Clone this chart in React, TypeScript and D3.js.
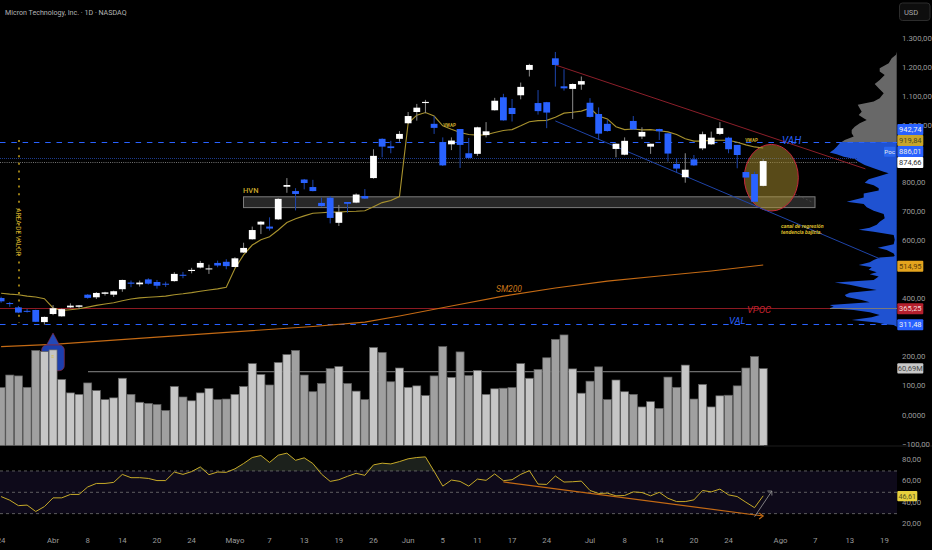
import React from "react";
import * as d3 from "d3";

const opens = [400.5,383,368,356,359,317,345,337,368,370,412,403,415,412,431,454,448,465,456,450,459,481,494,506,500,522,526,508,558,604,655,648,673,786,771,811,785,730,748,661,733,731,754,816,952,926,952,1006,1045,1076,1004,941,933,986,902,900,965,1051,1096,1059,1103,1191,1076,1079,1231,1134,1125,1140,1077,1038,1004,917,897,1014,960,925,986,971,865,819,881,919,933,969,956,931,837,830,789];
const highs = [405,387,373,363,360,336,376,364,382,376,414,421,422,426,464,461,461,469,463,457,490,491,505,529,516,530,535,542,592,648,667,680,746,816,781,813,810,748,754,723,733,763,778,916,954,945,979,1045,1073,1087,1031,957,957,986,955,994,1010,1094,1108,1090,1147,1212,1121,1080,1253,1193,1144,1168,1093,1061,1018,936,957,1031,992,935,987,972,885,902,896,977,977,1010,959,931,838,838,882];
const lows = [384,370,348,350,317,308,341,336,366,363,398,397,409,404,422,438,440,447,433,439,457,469,486,503,484,507,500,507,557,603,622,634,671,765,704,777,770,717,659,650,696,729,744,814,888,902,942,1004,1015,1041,969,858,913,851,881,893,957,1050,1015,1012,1089,1168,1036,989,1133,1119,1021,1122,1026,949,977,888,895,983,951,900,948,873,835,800,858,913,931,965,902,850,816,733,787];
const closes = [389,380,350,353,318,335,365,362,374,375,401,418,420,424,463,450,454,450,443,447,484,478,498,522,503,513,511,538,574,636,665,641,744,792,761,799,771,719,678,698,727,759,745,893,925,920,969,1031,1060,1080,990,860,946,931,886,992,978,1084,1016,1038,1132,1208,1048,1043,1208,1127,1142,1152,1028,970,979,935,945,985,976,935,978,901,849,845,860,968,956,989,916,896,818,734,875];
const volumes = [94,137,134,95,221,217,223,122,76,71,110,84,53,59,126,71,44,40,36,16,98,62,49,76,91,53,55,71,98,176,139,103,180,207,221,137,80,108,159,166,108,82,53,231,214,114,161,95,100,67,134,234,129,216,135,153,71,90,92,94,176,126,156,196,259,274,158,75,116,165,53,120,80,71,28,46,23,130,95,171,55,105,28,66,68,100,161,200,159];
const rsiValues = [46,42.6,37.5,38,32,36.6,44.8,44.8,48,48,55,58.3,58.3,59.3,66.8,63.7,63.7,63,61,61,69,66.8,69.4,73.8,66.5,69,68.7,72,77,82.6,84.5,78,84.8,86.7,80,82.3,77,67,60.2,61.8,65,67.8,65.9,75.7,77.3,76.6,78.8,81.4,82.6,83.2,69.7,55.8,61.5,60.2,55.8,62.4,61.2,67.2,60.9,61.8,66.8,70.3,57.7,57.4,65.3,59.6,59.9,60.5,51.7,48.9,49.2,46.7,47,50.4,49.8,46.7,50,44.4,41.3,41.3,42.9,51.7,50.4,53,47.6,46,40.7,35.6,46.7];
const vwapValues = [417,414,412,407,404,398,366,357,360,363,369,375,380,384,391,397,401,403,405,407,412,415,419,424,428,432,438,503,550,584,602,613,636,662,675,685,694,696,698,698,700,701,703,717,731,738,752,1006,1034,1043,1031,997,985,974,967,965,966,974,981,984,997,1011,1015,1016,1027,1041,1044,1048,1058,1031,1021,994,984,986,983,984,980,976,967,952,944,944,947,947,947,940,931,924,920];
const smaBars = [0,6,18,36,42,46,52,58,64,70,76,82,88];
const smaValues = [232,240,265,302,317,338,373,407,435,459,477,494,515];
const profilePrices = [1254,1243,1231,1214,1197,1185,1173,1156,1142,1127,1110,1093,1081,1070,1058,1046,1035,1023,1017,1006,994,983,971,960,948,941,937,925,914,905,899,890,882,873,861,850,838,833,823,812,800,791,781,773,763,749,734,726,715,703,692,677,665,654,644,637,630,619,602,587,575,567,555,547,544,541,532,524,515,507,498,490,483,475,463,454,446,436,428,419,411,404,394,386,376,370,365,359,351,342,334,324,316,309,307,301];
const profileVols = [0,0.7,5,8,17,17,12,17,22,18,13,17,23,39,37,35,38,33,30,37,42,45,45,43,52,55,57,60,63,67,60,53,42,38,32,23,13,8,17,28,32,23,18,18,33,33,50,33,30,23,13,12,17,20,27,38,23,3,2,3,19,10,3,2,3,17,23,27,38,25,28,20,27,18,23,62,47,33,20,47,52,50,35,27,67,63,67,43,27,17,25,45,20,10,3,0];
const priceTicks = [1300,1200,1100,1000,800,700,600,400];
const volumeTicks = [200,100,0,-100];
const rsiTicks = [80,60,40,20];
const timeTicks: [number,string][] = [[0,"24"],[6,"Abr"],[10,"8"],[14,"14"],[18,"20"],[22,"24"],[27,"Mayo"],[31,"7"],[35,"13"],[39,"19"],[43,"26"],[47,"Jun"],[51,"5"],[55,"11"],[59,"17"],[63,"24"],[68,"Jul"],[72,"8"],[76,"14"],[80,"20"],[84,"24"],[90,"Ago"],[94,"7"],[98,"13"],[102,"19"]];
const redChannel: [number,number][] = [[64,1208],[99.8,848]];
const blueChannel: [number,number][] = [[64,1014],[101.5,536]];
const rsiTrend: [number,number][] = [[58,59.7],[88,27.8]];
const rsiArrow: [number,number][] = [[87,27.1],[89,51.2]];
const VAH = 942.74, VAL = 311.48, POC = 886.01, LAST = 874.66, VPOC = 365.25, VOL_LEVEL = 150;

const BLUE = "#2962ff", YEL = "#c8a62a", FONT = "Roboto, 'Liberation Sans', sans-serif";
const W = 932, H = 550;

const x = d3.scaleLinear().domain([0, 88]).range([1.1, 763.2]);
const y = d3.scaleLinear().domain([1300, 400]).range([38.4, 298.15]);
const yv = d3.scaleLinear().domain([200, -100]).range([356.6, 444.4]);
const yr = d3.scaleLinear().domain([80, 20]).range([460.3, 524.3]);
const yrLabel = d3.scaleLinear().domain([80, 20]).range([459.3, 523.3]);
const wProfile = d3.scaleLinear().domain([0, 67]).range([896.7, 829.7]);
const fmt = (v: number) => d3.format(",.2f")(v).replace(/,/g, "#").replace(".", ",").replace(/#/g, ".");

const indices = d3.range(opens.length);
const lineOf = (vals: number[], sc: (v: number) => number) =>
  d3.line<number>().x((_, i) => x(i)).y(d => sc(d))(vals) ?? "";
const seg = (pts: [number, number][], sc: (v: number) => number) =>
  d3.line<[number, number]>().x(d => x(d[0])).y(d => sc(d[1]))(pts) ?? "";
const smaPath = d3.line<number>().x((_, i) => x(smaBars[i])).y(d => y(d))(smaValues) ?? "";
const profileRows = profilePrices.map((p, i) => ({ p, v: profileVols[i] }));
const profArea = d3.area<{ p: number; v: number }>().y(d => y(d.p)).x0(896.7).x1(d => wProfile(d.v));
const rsiAbove = d3.area<number>().x((_, i) => x(i)).y0(yr(70)).y1(d => yr(Math.max(70, d)));

function PriceLabel({ top, h = 11, fill, text, color }: { top: number; h?: number; fill: string; text: string; color: string }) {
  return (
    <g>
      <rect x={897.3} y={top} width={26} height={h} fill={fill} rx={1} />
      <text x={910.3} y={top + h / 2 + 2.6} fontSize={7.5} textAnchor="middle" fill={color} fontFamily={FONT}>{text}</text>
    </g>
  );
}

export default function App() {
  return (
    <svg width={W} height={H} viewBox={`0 0 ${W} ${H}`} style={{ position: "fixed", left: 0, top: 0, display: "block", background: "#000" }}>
      <rect width={W} height={H} fill="#000" />
      <text x={5} y={14.5} fontSize={7.1} fill="#b4b4b4" fontFamily={FONT}>Micron Technology, Inc. · 1D · NASDAQ</text>

      {/* volume profile */}
      <g>
        <path d={profArea(profileRows.filter(r => r.p >= VAH - 2)) ?? ""} fill="#6e6e6e" />
        <path d={profArea(profileRows.filter(r => r.p <= VAH)) ?? ""} fill="#2157dc" />
        {d3.range(52, 326, 2).map(r => <line key={r} x1={820} x2={897} y1={r} y2={r} stroke="#000" strokeOpacity={0.2} strokeWidth={0.5} />)}
      </g>

      {/* level lines */}
      <line x1={0} x2={897} y1={142.5} y2={142.5} stroke={BLUE} strokeWidth={1} strokeDasharray="5.5 5.8" />
      <line x1={0} x2={890} y1={324.5} y2={324.5} stroke={BLUE} strokeWidth={1} strokeDasharray="5.5 5.8" />
      <line x1={0} x2={857} y1={158.5} y2={158.5} stroke="#1c3a8c" strokeWidth={1} strokeDasharray="1 1" />
      <line x1={0} x2={857} y1={162.5} y2={162.5} stroke="#909090" strokeWidth={0.8} strokeDasharray="1 1.2" />
      <line x1={0} x2={840} y1={308.5} y2={308.5} stroke="#8c1a22" strokeWidth={1} />
      <line x1={830} x2={897} y1={308.5} y2={308.5} stroke="#7a7a7a" strokeWidth={1} />
      <line x1={19} x2={19} y1={140} y2={323} stroke="#d6ae1e" strokeWidth={1.4} strokeDasharray="2 5.6" />
      <path d={smaPath} fill="none" stroke="#c46a14" strokeWidth={1.1} />

      {/* zone */}
      <rect x={243.5} y={196.8} width={571.5} height={10.8} fill="#282828" stroke="#7c7c7c" strokeWidth={1} />
      <ellipse cx={771.3} cy={177.7} rx={27} ry={33.3} fill="#b09430" fillOpacity={0.5} stroke="#c8283c" strokeWidth={1} />
      <path d="M795 194 L812 202" stroke="#555" strokeWidth={0.6} strokeDasharray="2 2" fill="none" />

      {/* channels */}
      <path d={seg(redChannel, y)} stroke="#8c1f2a" strokeWidth={1} fill="none" />
      <path d={seg(blueChannel, y)} stroke="#1f44a8" strokeWidth={1} fill="none" />

      <path d={lineOf(vwapValues, y)} fill="none" stroke="#a8922e" strokeWidth={1.1} />

      {/* candles */}
      {indices.map(i => {
        const up = closes[i] >= opens[i];
        const top = y(Math.max(opens[i], closes[i]));
        const bot = y(Math.min(opens[i], closes[i]));
        return (
          <g key={i}>
            <line x1={x(i)} x2={x(i)} y1={y(highs[i])} y2={y(lows[i])} stroke={up ? "#8c8c8c" : "#1d45ad"} strokeWidth={1} />
            <rect x={x(i) - 3.4} y={top} width={6.8} height={Math.max(1, bot - top)} fill={up ? "#fff" : BLUE} />
          </g>
        );
      })}

      {/* text annotations */}
      <g fontFamily={FONT}>
        <text x={243} y={192.5} fontSize={7.5} fill={YEL} fontWeight={500}>HVN</text>
        <text transform="translate(18 232) rotate(90)" textAnchor="middle" y={2} fontSize={6.5} fill={YEL}>AREA DE VALOR</text>
        <text x={449.5} y={127} fontSize={4.5} fill={YEL} textAnchor="middle" fontWeight={700}>VWAP</text>
        <text x={751.5} y={142} fontSize={4.5} fill={YEL} textAnchor="middle" fontWeight={700}>VWAP</text>
        <text x={782} y={144} fontSize={10} fill={BLUE} fontStyle="italic">VAH</text>
        <text x={747} y={312.5} fontSize={9.5} fill="#c4222e" fontStyle="italic">VPOC</text>
        <text x={729} y={323.5} fontSize={9.5} fill={BLUE} fontStyle="italic">VAL</text>
        <text x={496} y={292} fontSize={8.5} fill="#c8761a" fontStyle="italic">SM200</text>
        <text x={781} y={228} fontSize={5.3} fill="#d8ba2a" fontStyle="italic" fontWeight={700}>canal de regresión</text>
        <text x={781} y={233.6} fontSize={5.3} fill="#d8ba2a" fontStyle="italic" fontWeight={700}>tendencia bajista.</text>
      </g>

      {/* marker */}
      <path d="M53 333 L46.5 345 L59.5 345 Z" fill="#2348b8" stroke="#8c2a3a" strokeWidth={0.6} />
      <rect x={41.7} y={345} width={22.6} height={25.7} rx={5} fill="#1c3fae" stroke="#7a2a44" strokeWidth={0.8} />

      {/* volume */}
      <line x1={88} x2={741} y1={yv(VOL_LEVEL) + 0.5} y2={yv(VOL_LEVEL) + 0.5} stroke="#8a8a8a" strokeWidth={1} />
      {indices.map(i => {
        const up = closes[i] >= opens[i];
        const t = yv(volumes[i]);
        return <rect key={i} x={x(i) - 4} y={t} width={8} height={445.5 - t} fill={up ? "#c6c6c6" : "#a0a0a0"} stroke="#606060" strokeWidth={0.7} />;
      })}
      <text x={53} y={358} fontSize={5} fill="#d8c040" textAnchor="middle" fontFamily={FONT}>≡</text>
      <line x1={764} x2={932} y1={446} y2={446} stroke="#1c1c1c" strokeWidth={1} />

      {/* RSI */}
      <rect x={0} y={yr(70)} width={897} height={yr(30) - yr(70)} fill="#0e0a1a" />
      <path d={rsiAbove(rsiValues) ?? ""} fill="#1c211c" />
      {[70, 50, 30].map(v => <line key={v} x1={0} x2={897} y1={yr(v)} y2={yr(v)} stroke="#727272" strokeWidth={0.8} strokeDasharray="3 3" />)}
      <path d={lineOf(rsiValues, yr)} fill="none" stroke="#c6aa28" strokeWidth={1} />
      <path d={seg(rsiTrend, yr)} fill="none" stroke="#c46a14" strokeWidth={1.2} />
      <path d={`M${x(88) - 4} ${yr(27.8) - 3} L${x(88)} ${yr(27.8)} L${x(88) - 4} ${yr(27.8) + 3}`} fill="none" stroke="#c46a14" strokeWidth={1.1} />
      <path d={seg(rsiArrow, yr)} fill="none" stroke="#9a9a9a" strokeWidth={0.8} />
      <path d={`M${x(89) - 4.5} ${yr(51.2)} L${x(89)} ${yr(51.2)} L${x(89)} ${yr(51.2) + 4.5}`} fill="none" stroke="#9a9a9a" strokeWidth={0.8} />

      {/* axes */}
      <g fontFamily={FONT} fontSize={7.8} fill="#9a9a9a">
        {priceTicks.map(t => <text key={t} x={902} y={y(t) + 2.6}>{fmt(t)}</text>)}
        {volumeTicks.map(t => <text key={t} x={902} y={yv(t) + 2.6}>{t === 0 ? "0,0000" : fmt(t).replace("-", "−")}</text>)}
        {rsiTicks.map(t => <text key={t} x={902} y={yrLabel(t) + 2.6}>{fmt(t)}</text>)}
        {timeTicks.map(([n, s]) => <text key={n} x={x(n)} y={543} textAnchor="middle">{s}</text>)}
      </g>

      <rect x={899.5} y={3} width={30.5} height={17.5} rx={3} fill="#0e0e0e" stroke="#2c2c2c" strokeWidth={1} />
      <text x={904} y={14.5} fontSize={7.5} fill="#a8a8a8" fontFamily={FONT}>USD</text>

      <rect x={884} y={146.7} width={11.3} height={10} rx={1} fill="#2a66ee" />
      <text x={889.6} y={154} fontSize={6.2} textAnchor="middle" fill="#e8e8e8" fontFamily={FONT}>Poc</text>
      <PriceLabel top={124} fill={BLUE} text={fmt(VAH)} color="#f0f0f0" />
      <PriceLabel top={135} fill="#c8a52a" text="919,84" color="#4a4a20" />
      <PriceLabel top={146} fill={BLUE} text={fmt(POC)} color="#e8e8e8" />
      <PriceLabel top={157} fill="#ffffff" text={fmt(LAST)} color="#333" />
      <PriceLabel top={260.7} fill="#e4a41e" text="514,95" color="#5a3c08" />
      <PriceLabel top={303.3} fill="#b4202e" text={fmt(VPOC)} color="#f0d8d8" />
      <PriceLabel top={319.3} fill={BLUE} text={fmt(VAL)} color="#f0f0f0" />
      <PriceLabel top={363.3} h={10.2} fill="#c8c8c8" text="60,69M" color="#444" />
      <rect x={897.3} y={491} width={20} height={10.3} rx={1} fill="#e6d03e" />
      <text x={907.3} y={498.8} fontSize={7.2} textAnchor="middle" fill="#5a5520" fontFamily={FONT}>46,61</text>
    </svg>
  );
}
